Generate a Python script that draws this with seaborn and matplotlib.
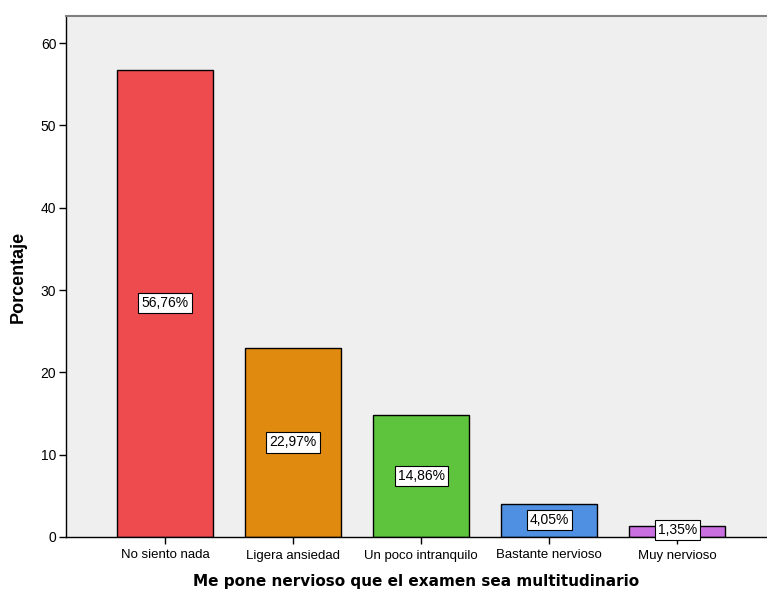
import matplotlib
matplotlib.use("Agg")
import matplotlib.pyplot as plt
import seaborn as sns
import pandas as pd

categories = ["No siento nada", "Ligera ansiedad", "Un poco intranquilo", "Bastante nervioso", "Muy nervioso"]
values = [56.76, 22.97, 14.86, 4.05, 1.35]
labels = ["56,76%", "22,97%", "14,86%", "4,05%", "1,35%"]
colors = ["#EE4B4E", "#E08A10", "#5EC43E", "#4F90E2", "#C96FE0"]

sns.set_style("white")
plt.rcParams['font.family'] = ['Liberation Sans', 'DejaVu Sans']
plt.rcParams['text.color'] = 'black'
plt.rcParams['xtick.color'] = 'black'
plt.rcParams['ytick.color'] = 'black'
plt.rcParams['axes.labelcolor'] = 'black'

fig = plt.figure(figsize=(7.67, 5.91), dpi=100)
ax = fig.add_axes([66/767, 1-537/591, 1-66/767, (537-16)/591])
ax.set_facecolor("#EFEFEF")

df = pd.DataFrame({"cat": categories, "val": values})
sns.barplot(data=df, x="cat", y="val", hue="cat", palette=colors, legend=False,
            width=0.75, edgecolor="black", linewidth=1.0, ax=ax, saturation=1)

for i, (v, lab) in enumerate(zip(values, labels)):
    ax.text(i, v/2 if v > 3 else v*0.62, lab, ha="center", va="center", fontsize=10,
            bbox=dict(boxstyle="square,pad=0.22", fc="white", ec="black", lw=0.8), zorder=5)

ax.set_xlim(-0.773, 4.70)
ax.set_ylim(0, 63.3)
ax.set_yticks([0, 10, 20, 30, 40, 50, 60])
ax.tick_params(axis="y", direction="out", length=5, width=1, labelsize=10, left=True, pad=2)
ax.tick_params(axis="x", direction="out", length=5, width=1, labelsize=9.5, bottom=True, pad=4)

for s in ["left", "bottom"]:
    ax.spines[s].set_color("black")
    ax.spines[s].set_linewidth(1)
ax.spines["top"].set_color("#808080")
ax.spines["top"].set_linewidth(1.5)
ax.spines["right"].set_visible(False)

ax.set_xlabel("Me pone nervioso que el examen sea multitudinario", fontsize=11,
              fontweight="bold", labelpad=9, family=["DejaVu Sans"])
ax.set_ylabel("Porcentaje", fontsize=13, fontweight="bold", labelpad=10)

fig.savefig("out.png", dpi=100)
